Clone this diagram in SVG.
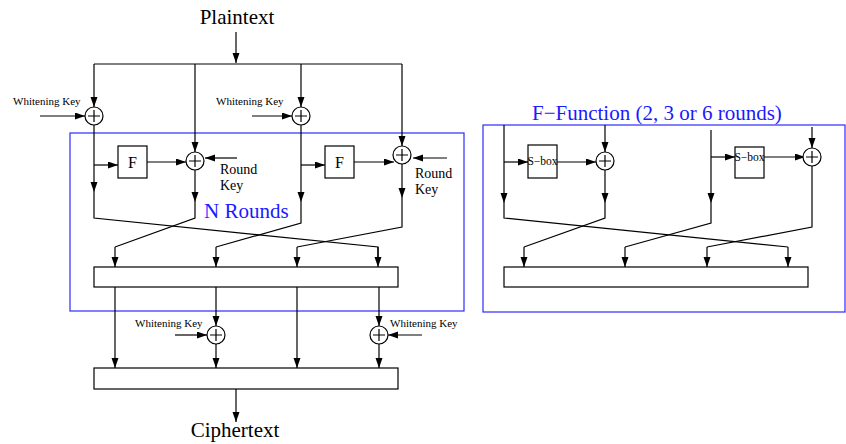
<svg xmlns="http://www.w3.org/2000/svg" width="846" height="444" viewBox="0 0 846 444">
<style>
.ln{fill:none;stroke:#000;stroke-width:1.2}
.ar{fill:none;stroke:#000;stroke-width:1.2;marker-end:url(#ah)}
.box{fill:#fff;stroke:#000;stroke-width:1.2}
.xor{fill:#fff;stroke:#000;stroke-width:1.2}
.frame{fill:none;stroke:#2a2aff;stroke-width:1.2}
.t{font-family:"Liberation Serif","Times New Roman",serif;fill:#000}
.big{font-size:21px}
.wk{font-size:11px}
.rk{font-size:14px}
.blue{fill:#1a1aff;font-size:21px}
.sb{font-size:11.5px}
</style>
<defs>
<marker id="ah" markerUnits="userSpaceOnUse" markerWidth="11" markerHeight="8" refX="10" refY="3.5" orient="auto">
<path d="M0,0 L10,3.5 L0,7 z" fill="#000"/>
</marker>
<g id="xorSym"><circle r="9" class="xor"/><path d="M-6,0 H6 M0,-6 V6" class="ln"/></g>
</defs>

<g id="frames">
<rect id="n-rounds-frame" x="70" y="133" width="394" height="178" class="frame"/>
<rect id="f-function-frame" x="483" y="125" width="362" height="187" class="frame"/>
</g>

<g id="connectors">
<path class="ar" d="M236,32 V63"/>
<path class="ln" d="M94,64 H402"/>
<path class="ar" d="M94,64 V107"/>
<path class="ar" d="M301,64 V107"/>
<path class="ar" d="M195,64 V152"/>
<path class="ar" d="M402,64 V146"/>
<path class="ar" d="M40,116 H85"/>
<path class="ar" d="M252,116 H292"/>
<path class="ar" d="M94,125 V192"/>
<path class="ln" d="M94,192 V218 L378,247 V257"/>
<path class="ar" d="M378,247 V267"/>
<path class="ar" d="M94,165 H118"/>
<path class="ar" d="M147,162 H186"/>
<path class="ar" d="M237,158 H205"/>
<path class="ar" d="M195,170 V202"/>
<path class="ln" d="M195,202 V218 L115,247"/>
<path class="ar" d="M115,247 V267"/>
<path class="ar" d="M301,125 V202"/>
<path class="ln" d="M301,202 V223 L216,247"/>
<path class="ar" d="M216,247 V267"/>
<path class="ar" d="M301,165 H325"/>
<path class="ar" d="M354,162 H394"/>
<path class="ar" d="M447,158 H413"/>
<path class="ar" d="M402,164 V198"/>
<path class="ln" d="M402,198 V227 L297,247"/>
<path class="ar" d="M297,247 V267"/>
<path class="ar" d="M115,287 V368"/>
<path class="ar" d="M216,287 V326"/>
<path class="ar" d="M216,344 V368"/>
<path class="ar" d="M297,287 V368"/>
<path class="ar" d="M379,287 V326"/>
<path class="ar" d="M379,344 V368"/>
<path class="ar" d="M175,335 H207"/>
<path class="ar" d="M422,335 H388"/>
<path class="ar" d="M236,389 V422"/>
<path class="ar" d="M504,125 V203"/>
<path class="ln" d="M504,203 V218 L788,247"/>
<path class="ar" d="M788,247 V267"/>
<path class="ar" d="M504,162 H528"/>
<path class="ar" d="M557,162 H596"/>
<path class="ar" d="M605,125 V152"/>
<path class="ar" d="M605,170 V203"/>
<path class="ln" d="M605,203 V218 L524,247"/>
<path class="ar" d="M524,247 V267"/>
<path class="ar" d="M711,130 V203"/>
<path class="ln" d="M711,203 V223 L625,247"/>
<path class="ar" d="M625,247 V267"/>
<path class="ar" d="M711,157 H735"/>
<path class="ar" d="M764,157 H805"/>
<path class="ar" d="M812,127 V148"/>
<path class="ln" d="M812,166 V227 L707,247"/>
<path class="ar" d="M707,247 V267"/>
</g>

<g id="plaintext"><text class="t big" x="237" y="24" text-anchor="middle">Plaintext</text></g>
<g id="ciphertext"><text class="t big" x="235" y="437" text-anchor="middle">Ciphertext</text></g>

<g id="wk-in-1"><text class="t wk" x="13" y="105">Whitening Key</text><use href="#xorSym" x="94" y="116"/></g>
<g id="wk-in-2"><text class="t wk" x="216" y="105">Whitening Key</text><use href="#xorSym" x="301" y="116"/></g>

<g id="f1"><rect x="118" y="146" width="29" height="32" class="box"/><text class="t" font-size="16" x="132.5" y="168" text-anchor="middle">F</text></g>
<g id="rk1"><use href="#xorSym" x="195" y="161"/><text class="t rk" x="220" y="174">Round</text><text class="t rk" x="220" y="190">Key</text></g>
<g id="f2"><rect x="325" y="146" width="29" height="32" class="box"/><text class="t" font-size="16" x="339.5" y="168" text-anchor="middle">F</text></g>
<g id="rk2"><use href="#xorSym" x="402" y="155"/><text class="t rk" x="415" y="178">Round</text><text class="t rk" x="415" y="194">Key</text></g>

<g id="n-rounds-label"><text class="t blue" x="204" y="218">N Rounds</text></g>

<g id="perm-bar"><rect x="94" y="267" width="304" height="20" class="box"/></g>

<g id="wk-out-1"><text class="t wk" x="135" y="327">Whitening Key</text><use href="#xorSym" x="216" y="335"/></g>
<g id="wk-out-2"><text class="t wk" x="390" y="327">Whitening Key</text><use href="#xorSym" x="379" y="335"/></g>

<g id="out-bar"><rect x="94" y="368" width="304" height="21" class="box"/></g>

<g id="f-function-label"><text class="t blue" x="532" y="120">F−Function (2, 3 or 6 rounds)</text></g>
<g id="sbox1"><rect x="528" y="145" width="29" height="33" class="box"/><text class="t sb" x="542.5" y="165" text-anchor="middle">S−box</text></g>
<g id="fx1"><use href="#xorSym" x="605" y="161"/></g>
<g id="sbox2"><rect x="735" y="147" width="29" height="31" class="box"/><text class="t sb" x="749.5" y="161" text-anchor="middle">S−box</text></g>
<g id="fx2"><use href="#xorSym" x="812" y="157"/></g>
<g id="f-bar"><rect x="504" y="267" width="304" height="20" class="box"/></g>
</svg>
